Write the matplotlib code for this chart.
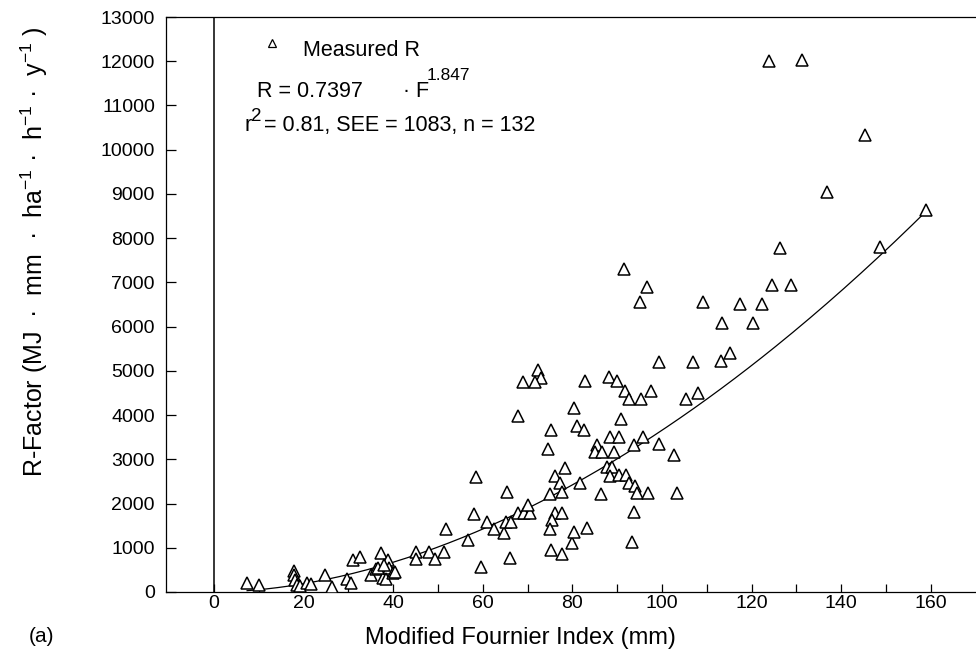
import numpy as np
import matplotlib
matplotlib.use('Agg')
import matplotlib.pyplot as plt
from matplotlib.lines import Line2D

plt.rcParams['font.family'] = ['Liberation Sans', 'DejaVu Sans']
plt.rcParams['mathtext.fontset'] = 'custom'
plt.rcParams['mathtext.rm'] = 'Liberation Sans'
plt.rcParams['mathtext.it'] = 'Liberation Sans:italic'

# Modified Fournier index (mm) and measured R-factor
fournier = [
    7.4, 10.0, 17.9, 17.9, 18.0, 18.5, 19.2, 20.7, 21.6, 24.9, 26.3, 29.8, 30.5,
    31.1, 32.6, 35.0, 36.2, 37.4, 37.7, 38.9, 39.1, 38.4, 40.0, 40.4, 36.6, 37.9,
    72.3, 73.0, 69.0, 71.7, 82.9, 88.1, 89.9, 91.8, 97.6, 92.7, 95.4, 99.4, 107.0,
    105.3, 80.4, 67.9, 90.9, 75.2, 81.0, 82.6, 88.3, 90.4, 95.8, 74.6, 85.6, 85.1,
    86.7, 89.4, 93.7, 99.4, 102.6, 58.4, 65.4, 78.3, 76.1, 77.2, 75.1, 77.8, 81.7,
    87.8, 88.9, 88.5, 90.4, 91.9, 92.6, 93.9, 94.5, 96.9, 86.3, 103.3, 58.0, 60.9,
    62.5, 64.7, 65.2, 66.4, 67.9, 69.2, 70.5, 70.1, 51.9, 56.8, 45.1, 45.1, 48.1,
    49.3, 51.3, 59.6, 66.1, 75.3, 77.8, 79.9, 80.4, 83.3, 76.1, 77.7, 75.4, 75.1,
    93.4, 93.8, 108.0,
    124.0, 131.2, 145.4, 136.8, 158.9, 148.7, 126.4, 91.6, 96.7, 95.2, 109.2,
    124.6, 128.7, 117.4, 122.3, 113.5, 120.4, 113.2, 115.3,
]
r_factor = [
    196, 151, 483, 385, 271, 158, 136, 196, 181, 385, 121, 287, 196,
    724, 799, 385, 513, 890, 309, 724, 536, 287, 422, 460, 543, 611,
    5023, 4834, 4758, 4758, 4774, 4857, 4774, 4548, 4548, 4360, 4360, 5211, 5211,
    4366, 4170, 3982, 3921, 3665, 3756, 3665, 3514, 3514, 3514, 3235, 3326, 3160,
    3160, 3160, 3326, 3341, 3100, 2609, 2270, 2813, 2632, 2459, 2210, 2270, 2473,
    2835, 2835, 2632, 2647, 2647, 2473, 2405, 2233, 2233, 2217, 2240, 1765, 1591,
    1418, 1342, 1591, 1591, 1780, 1780, 1780, 1968, 1418, 1176, 898, 740, 898,
    740, 898, 573, 769, 950, 860, 1116, 1365, 1440, 1795, 1795, 1629, 1425,
    1124, 1810, 4495,
    12013, 12036, 10339, 9042, 8643, 7790, 7775, 7308, 6893, 6546, 6554,
    6930, 6930, 6508, 6508, 6079, 6079, 5226, 5400,
]

# fitted power law shown on the chart: R = 0.7397 * F^1.847
fit_coef = 0.7397
fit_expo = 1.847

W, H = 976, 656
fig = plt.figure(figsize=(W / 100, H / 100), dpi=100)
ax = fig.add_axes([166 / W, 64 / H, 810 / W, 575 / H])


def fxy(x, y):
    # image pixel position -> figure fraction
    return x / W, 1 - y / H


f_arr = np.array(fournier)
fit_f = np.linspace(f_arr.min(), f_arr.max(), 200)
fit_r = fit_coef * fit_f ** fit_expo

ax.axvline(0, color='black', lw=1.1, zorder=1)
ax.plot(fit_f, fit_r, color='black', lw=0.9, zorder=2)
ax.plot(fournier, r_factor, linestyle='none', marker='^', markersize=8,
        mfc='white', mec='black', mew=1.1, zorder=3)

ax.set_xlim(-10.7, 170.1)
ax.set_ylim(0, 13000)
ax.set_xticks(np.arange(0, 161, 20))
ax.set_xticks(np.arange(10, 151, 20), minor=True)
ax.set_yticks(np.arange(0, 13001, 1000))
ax.tick_params(axis='x', which='both', direction='in', length=6, width=0.9,
               pad=2, labelsize=14)
ax.tick_params(axis='y', direction='in', length=7, width=0.9, pad=8,
               labelsize=14)
ax.spines['right'].set_visible(False)
for s in ('left', 'bottom', 'top'):
    ax.spines[s].set_linewidth(0.9)

# legend entry and fit equation
fig.add_artist(Line2D([fxy(272, 43)[0]], [fxy(272, 43)[1]], marker='^',
                      markersize=5.5, mfc='white', mec='black', mew=0.9,
                      linestyle='none', transform=fig.transFigure))
fig.text(*fxy(303, 51), 'Measured R', va='center', fontsize=15.5)
fig.text(*fxy(257, 97), 'R = 0.7397', va='baseline', fontsize=15.5)
fig.text(*fxy(403, 97), '· F', va='baseline', fontsize=15.5)
fig.text(*fxy(427, 80), '1.847', va='baseline', fontsize=12.5)
fig.text(*fxy(244, 131), 'r', va='baseline', fontsize=15.5)
fig.text(*fxy(251, 121), '2', va='baseline', fontsize=13.5)
fig.text(*fxy(264, 131), '= 0.81, SEE = 1083, n = 132', va='baseline',
         fontsize=15.5)

fig.text(*fxy(520, 638), 'Modified Fournier Index (mm)', ha='center',
         va='center', fontsize=17)
fig.text(*fxy(34, 252),
         r'R-Factor (MJ  ·  mm  ·  ha$^{-1}$ ·  h$^{-1}$ ·  y$^{-1}$ )',
         rotation=90, ha='center', va='center', fontsize=18)
fig.text(*fxy(41, 637), '(a)', ha='center', va='center', fontsize=15)

fig.savefig('out.png', dpi=100)
